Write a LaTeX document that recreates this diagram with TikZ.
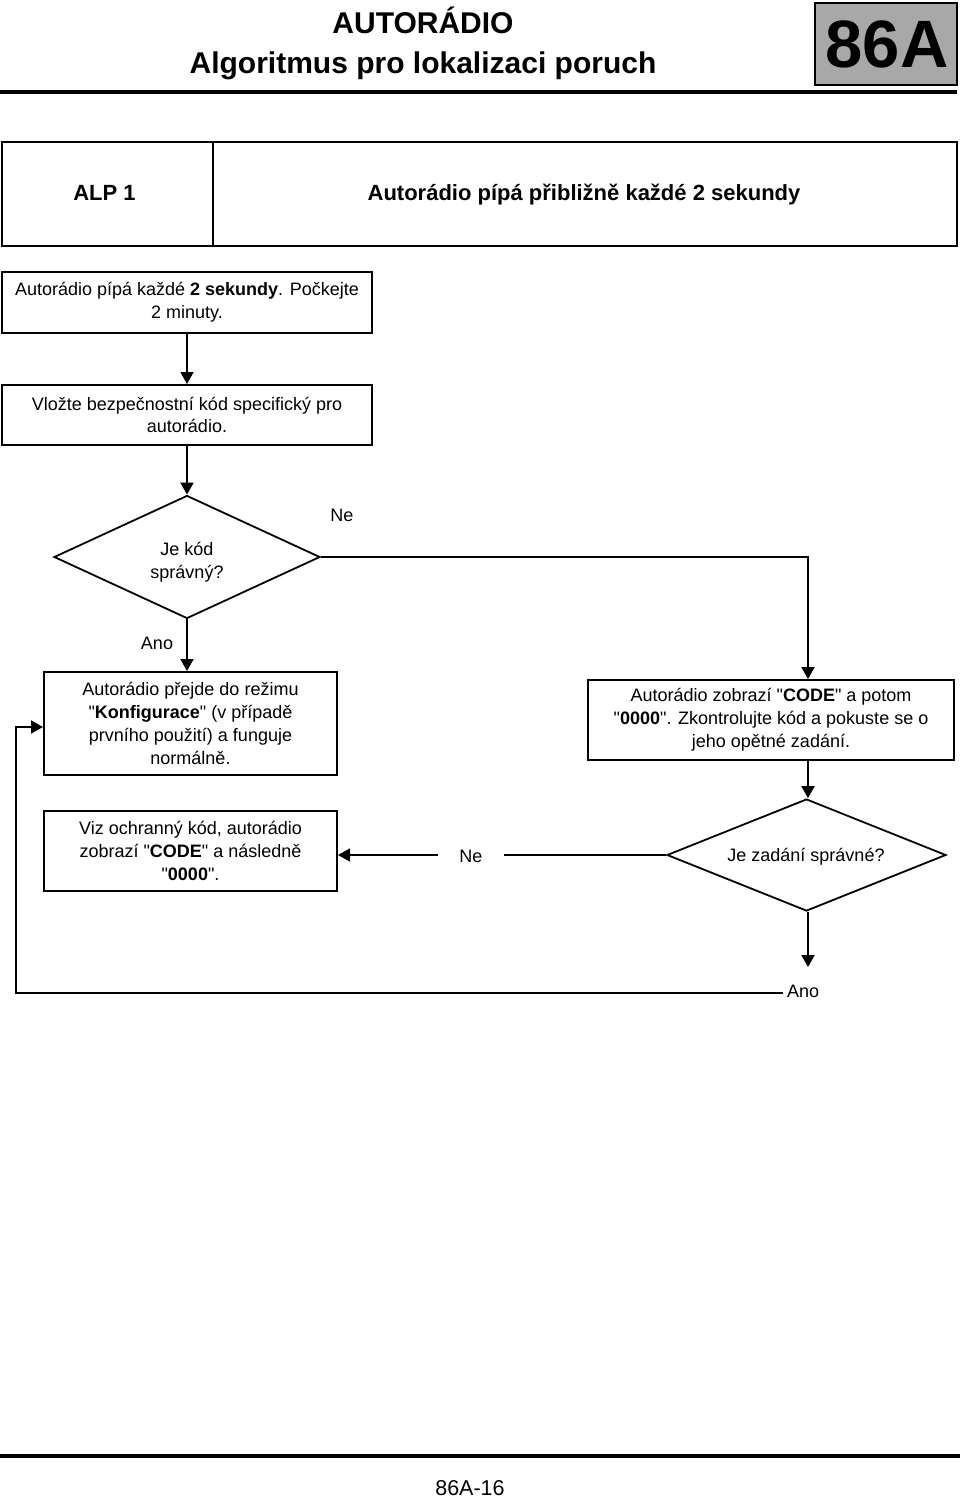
\documentclass[tikz,border=0pt]{standalone}
\usepackage{fontspec}
\setmainfont{Liberation Sans}
\usetikzlibrary{arrows.meta,shapes.geometric}
\definecolor{hdrgray}{HTML}{A8A8A8}
\newcommand{\qd}{\textquotedbl}
\tikzset{
  boxnode/.style={draw, line width=2pt, inner sep=0pt, align=center,
    font=\fontsize{18}{22.8}\selectfont},
  dianode/.style={draw, diamond, line width=1.8pt, inner sep=0pt, align=center,
    font=\fontsize{18}{22.8}\selectfont},
  lbl/.style={inner sep=0pt, font=\fontsize{18}{22}\selectfont},
  conn/.style={line width=1.8pt},
  arr/.style={line width=1.8pt, -{Triangle[length=12pt,width=13pt]}},
  rule/.style={line width=4pt}
}
\begin{document}
\begin{tikzpicture}[x=1pt,y=-1pt]
\useasboundingbox (0,0) rectangle (960,1497);
% header
\node[anchor=base, inner sep=0pt, font=\fontsize{30}{30}\bfseries] (t1) at (423,33) {AUTORÁDIO};
\node[anchor=base, inner sep=0pt, font=\fontsize{30}{30}\bfseries] (t2) at (423,73) {Algoritmus pro lokalizaci poruch};
\node[draw, fill=hdrgray, line width=2pt, minimum width=142pt, minimum height=82pt, inner sep=0pt] (hb) at (885.5,44) {};
\node[anchor=base, inner sep=0pt, font=\fontsize{67}{67}\bfseries] (hbt) at (887,67) {86A};
\coordinate (r1a) at (0,92); \coordinate (r1b) at (957,92);
\draw[rule] (r1a) -- (r1b);
% ALP
\node[draw, line width=2pt, minimum width=211pt, minimum height=104pt, inner sep=0pt] (alpa) at (107.5,194) {};
\node[draw, line width=2pt, minimum width=744pt, minimum height=104pt, inner sep=0pt] (alpb) at (585,194) {};
\node[anchor=base, inner sep=0pt, font=\fontsize{22}{22}\bfseries] (alpat) at (104.5,200) {ALP 1};
\node[anchor=base, inner sep=0pt, font=\fontsize{22}{22}\bfseries] (alpbt) at (584,200) {Autorádio pípá přibližně každé 2 sekundy};
% boxes
\node[boxnode, minimum width=370pt, minimum height=61pt] (b1) at (187,302.5)
  {Autorádio pípá každé \textbf{2 sekundy}. Počkejte\\2 minuty.};
\node[boxnode, minimum width=370pt, minimum height=60pt] (b2) at (187,415)
  {Vložte bezpečnostní kód specifický pro\\autorádio.};
\node[dianode, minimum width=266pt, minimum height=123pt] (d1) at (187,557) {};
\node[lbl, align=center, font=\fontsize{18}{22.5}\selectfont] (d1t) at (187,562) {Je kód\\správný?};
\node[lbl] (ne1) at (342,515) {Ne};
\node[lbl] (ano1) at (157,643) {Ano};
\node[boxnode, minimum width=293pt, minimum height=103pt] (b3) at (190.5,723.5)
  {Autorádio přejde do režimu\\\qd\textbf{Konfigurace}\qd{} (v případě\\prvního použití) a funguje\\normálně.};
\node[boxnode, minimum width=366pt, minimum height=80pt] (b4) at (771,720)
  {Autorádio zobrazí \qd\textbf{CODE}\qd{} a potom\\\qd\textbf{0000}\qd. Zkontrolujte kód a pokuste se o\\jeho opětné zadání.};
\node[dianode, minimum width=279pt, minimum height=112pt] (d2) at (806.5,855) {};
\node[lbl] (d2t) at (806,857) {Je zadání správné?};
\node[boxnode, minimum width=293pt, minimum height=80pt] (b5) at (190.5,851)
  {Viz ochranný kód, autorádio\\zobrazí \qd\textbf{CODE}\qd{} a následně\\\qd\textbf{0000}\qd.};
\node[lbl, minimum width=66pt] (ne2) at (471,856) {Ne};
\node[lbl, anchor=west, inner xsep=4pt] (ano2) at (783,991) {Ano};
% connectors
\coordinate (c1) at (808,556);
\coordinate (c2) at (808,967);
\coordinate (lp) at (16,993);
\coordinate (lq) at (16,727);
\draw[arr] (b1.south) -- (b2.north);
\draw[arr] (b2.south) -- (d1.north);
\draw[arr] (d1.east) -- (d1.east -| c1) -- (c1 |- b4.north);
\draw[arr] (d1.south) -- (d1.south |- b3.north);
\draw[arr] (c1 |- b4.south) -- (c1 |- d2.north);
\draw[conn] (d2.west) -- (d2.west -| ne2.east);
\draw[arr] (d2.west -| ne2.west) -- (d2.west -| b5.east);
\draw[arr] (c1 |- d2.south) -- (c2);
\draw[arr] (ano2.west |- lp) -- (lp) -- (lq) -- (lq -| b3.west);
% footer
\coordinate (r2a) at (0,1456); \coordinate (r2b) at (960,1456);
\draw[rule] (r2a) -- (r2b);
\node[anchor=base, inner sep=0pt, font=\fontsize{21.5}{22}\selectfont] (pg) at (470,1495) {86A-16};
\end{tikzpicture}
\end{document}
